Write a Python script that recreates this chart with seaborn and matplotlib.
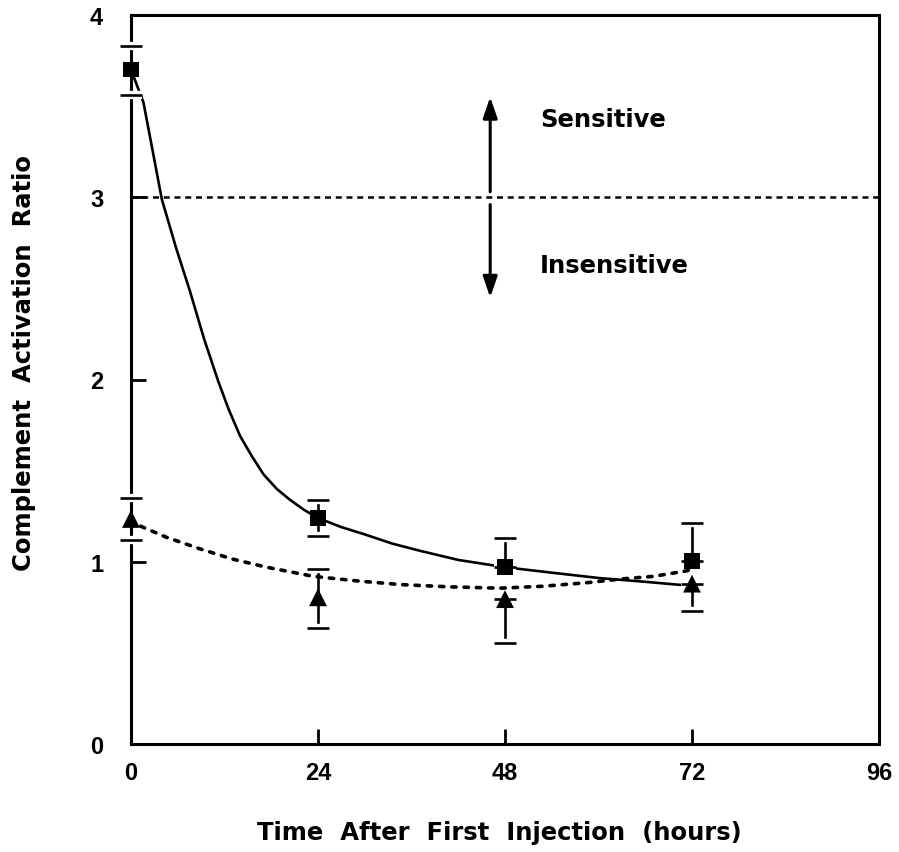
import matplotlib
matplotlib.use("Agg")
import matplotlib.pyplot as plt
import matplotlib.patheffects as pe
import pandas as pd
import seaborn as sns

# Measured means and error bars (complement activation ratio vs. time)
hours = [0, 24, 48, 72]
sensitive_mean = [3.70, 1.24, 0.97, 1.005]
sensitive_err_low = [0.14, 0.10, 0.0, 0.0]
sensitive_err_high = [0.13, 0.10, 0.16, 0.21]
insensitive_mean = [1.235, 0.805, 0.795, 0.88]
insensitive_err_low = [0.115, 0.17, 0.24, 0.15]
insensitive_err_high = [0.115, 0.155, 0.0, 0.0]

# Fitted curves traced through the data
sens_fit_x = [0, 0.8, 1.6, 2.8, 3.95, 5.8, 7.6, 9.4, 11.2, 12.5, 14.0, 15.5,
              17.0, 18.7, 20.4, 22.2, 24, 27, 30, 33.5, 37.1, 42, 48, 54, 60.2, 66, 71.3]
sens_fit_y = [3.70, 3.61, 3.52, 3.25, 2.99, 2.72, 2.48, 2.22, 1.99, 1.84, 1.69, 1.58,
              1.48, 1.40, 1.34, 1.285, 1.24, 1.19, 1.15, 1.10, 1.06, 1.01, 0.97, 0.94, 0.91, 0.89, 0.87]
insens_fit_x = [0, 0.7, 4.5, 8.9, 13, 17.4, 23.4, 29, 34.5, 41, 47.4, 53, 58.5, 62.8, 67.1, 71.3, 72]
insens_fit_y = [1.235, 1.205, 1.135, 1.07, 1.015, 0.97, 0.92, 0.895, 0.875, 0.862, 0.855, 0.866,
                0.885, 0.905, 0.92, 0.95, 0.96]

threshold = 3.0
x_ticks = [0, 24, 48, 72, 96]
y_ticks = [0, 1, 2, 3, 4]

sns.set_theme(style="ticks")
plt.rcParams["font.family"] = ["Liberation Sans", "DejaVu Sans"]
plt.rcParams["font.weight"] = "bold"
plt.rcParams["text.color"] = "black"
plt.rcParams["axes.labelcolor"] = "black"
plt.rcParams["xtick.color"] = "black"
plt.rcParams["ytick.color"] = "black"

fig = plt.figure(figsize=(8.99, 8.53), dpi=100)
ax = fig.add_axes([131 / 899, 1 - 745 / 853, (879 - 131) / 899, (745 - 16) / 853])

# threshold line
ax.axhline(threshold, color="black", lw=1.8, dashes=(2.4, 1.9), zorder=1)

# fitted curves
sns.lineplot(x=sens_fit_x, y=sens_fit_y, ax=ax, color="black", lw=1.9,
             sort=False, estimator=None, zorder=2)
sns.lineplot(x=insens_fit_x, y=insens_fit_y, ax=ax, color="black", lw=2.6,
             sort=False, estimator=None, zorder=2)
ax.lines[-1].set_dashes((1.2, 2.2))
ax.lines[-1].set_dash_capstyle("round")
ax.lines[-2].set_solid_joinstyle("round")

# error bars
def draw_errorbars(x, y, lo, hi):
    eb = ax.errorbar(x, y, yerr=[lo, hi], fmt="none", ecolor="black",
                     elinewidth=1.9, capsize=8, capthick=1.9, zorder=3)
    for cap in eb[1]:
        cap.set_clip_on(False)
        cap.set_path_effects([pe.Stroke(linewidth=6, foreground="white"), pe.Normal()])
    for col in eb[2]:
        col.set_clip_on(False)

draw_errorbars(hours, sensitive_mean, sensitive_err_low, sensitive_err_high)
draw_errorbars(hours, insensitive_mean, insensitive_err_low, insensitive_err_high)

# data markers
pts = pd.DataFrame({"hours": hours * 2,
                    "ratio": sensitive_mean + insensitive_mean,
                    "group": ["Sensitive"] * 4 + ["Insensitive"] * 4})
sns.scatterplot(data=pts, x="hours", y="ratio", style="group",
                markers={"Sensitive": "s", "Insensitive": "^"},
                size="group", sizes={"Sensitive": 125, "Insensitive": 165},
                color="black", edgecolor="black", linewidth=0, ax=ax,
                legend=False, zorder=4, clip_on=False)

# sensitivity arrows around the threshold
arrow_x = 46.1
head = "-|>,head_length=1.05,head_width=0.36"
ax.annotate("", xy=(arrow_x, 3.55), xytext=(arrow_x, 3.03),
            arrowprops=dict(arrowstyle=head, color="black", lw=2.2,
                            shrinkA=0, shrinkB=0))
ax.annotate("", xy=(arrow_x, 2.45), xytext=(arrow_x, 2.96),
            arrowprops=dict(arrowstyle=head, color="black", lw=2.2,
                            shrinkA=0, shrinkB=0))
ax.text(52.5, 3.43, "Sensitive", fontsize=17.5, fontweight="bold",
        ha="left", va="center", family=["DejaVu Sans"])
ax.text(52.5, 2.63, "Insensitive", fontsize=17.5, fontweight="bold",
        ha="left", va="center", family=["DejaVu Sans"])

ax.set_xlim(0, 96)
ax.set_ylim(0, 4)
ax.set_xticks(x_ticks)
ax.set_yticks(y_ticks)
ax.set_xticklabels([str(v) for v in x_ticks], fontsize=17, fontweight="bold")
ax.set_yticklabels([str(v) for v in y_ticks], fontsize=17, fontweight="bold")
ax.tick_params(axis="both", direction="in", length=11, width=2, color="black")
ax.tick_params(axis="x", pad=12)
ax.tick_params(axis="y", pad=20)
for s in ax.spines.values():
    s.set_linewidth(2.2)
    s.set_color("black")

ax.set_xlabel("Time  After  First  Injection  (hours)", fontsize=17.5,
              fontweight="bold", family=["DejaVu Sans"])
ax.set_ylabel("Complement  Activation  Ratio", fontsize=17.5,
              fontweight="bold", family=["DejaVu Sans"])
ax.xaxis.set_label_coords(0.4927, -0.104)
ax.yaxis.set_label_coords(-0.127, 0.524)
ax.set_facecolor("white")
fig.patch.set_facecolor("white")

fig.savefig("out.png", dpi=100)
